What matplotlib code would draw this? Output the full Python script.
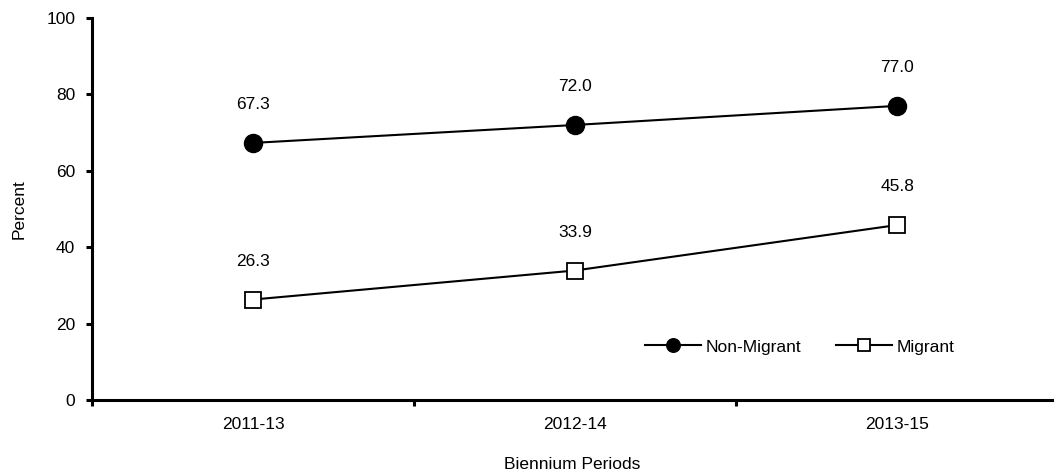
import matplotlib.pyplot as plt

periods = ['2011-13', '2012-14', '2013-15']
non_migrant = [67.3, 72.0, 77.0]
migrant = [26.3, 33.9, 45.8]

plt.rcParams['font.family'] = ['Liberation Sans', 'DejaVu Sans']

fig = plt.figure(figsize=(10.54, 4.72), dpi=100)
ax = fig.add_axes([92 / 1054, 1 - 400 / 472, (1053 - 92) / 1054, (400 - 18) / 472])

x = range(len(periods))
ax.plot(x, non_migrant, color='black', lw=1.5, marker='o', ms=13,
        mfc='black', mec='black', label='Non-Migrant')
ax.plot(x, migrant, color='black', lw=1.5, marker='s', ms=11.5,
        mfc='white', mec='black', mew=1.3, label='Migrant')

for xi, v in zip(x, non_migrant):
    ax.annotate(f'{v:.1f}', (xi, v), xytext=(0, 22), textcoords='offset points',
                ha='center', va='bottom', fontsize=12.5)
for xi, v in zip(x, migrant):
    ax.annotate(f'{v:.1f}', (xi, v), xytext=(0, 22), textcoords='offset points',
                ha='center', va='bottom', fontsize=12.5)

ax.set_ylim(0, 100)
ax.set_xlim(-0.5, 2.484)
ax.set_yticks(range(0, 101, 20))
ax.set_xticks(list(x))
ax.set_xticklabels(periods, fontsize=12.5)
ax.set_xticks([-0.5, 0.5, 1.5], minor=True)
ax.tick_params(axis='x', which='major', length=0, pad=12)
ax.tick_params(axis='x', which='minor', length=4, width=2.2, direction='out')
ax.tick_params(axis='y', length=4, width=2.2, labelsize=12.5, pad=8)

for s in ['top', 'right']:
    ax.spines[s].set_visible(False)
for s in ['left', 'bottom']:
    ax.spines[s].set_linewidth(2.2)

ax.set_ylabel('Percent', fontsize=12.5, labelpad=14)
ax.set_xlabel('Biennium Periods', fontsize=12.5, labelpad=18)

ax.legend(loc='center', bbox_to_anchor=((800 - 92) / 961, (400 - 347) / 382),
          ncol=2, frameon=False, fontsize=12.5, handlelength=3.2, columnspacing=2,
          handletextpad=0.3, markerscale=0.75)

fig.savefig('out.png', dpi=100)
